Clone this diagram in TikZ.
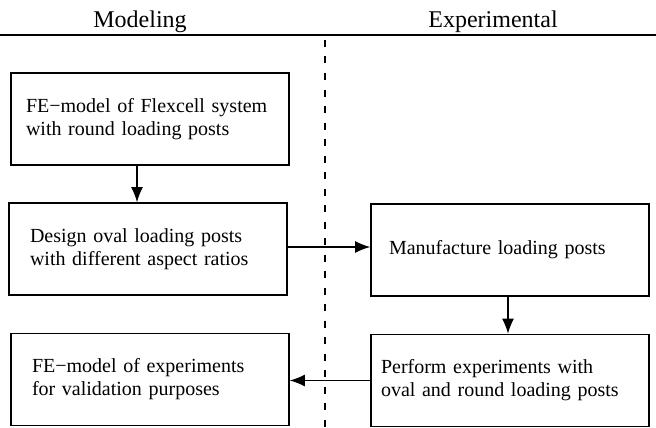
\documentclass[tikz,border=0pt]{standalone}
\usepackage{fontspec}
\setmainfont{Liberation Serif}
\usetikzlibrary{arrows.meta}

\begin{document}
\begin{tikzpicture}[x=1pt,y=-1pt]
%%%%%%%%%%%%%%%%%%%%%%%%%%%%%%%%%%%%%%%%%%%%%%%%%%%%%%%%
% STYLE
\tikzstyle{box}=[rectangle,draw,line width=1.6pt,minimum height=92pt,inner xsep=19pt,text width=240pt,align=left,font=\fontsize{20}{23}\selectfont]
\tikzstyle{title}=[anchor=base,font=\fontsize{24}{29}\selectfont]

\tikzset{link/.style={-{Latex[length=15pt,width=12pt]},line width=1.3pt}}

\useasboundingbox (0,0) rectangle (656,428);

%%%%%%%%%%%%%%%%%%%%%%%%%%%%%%%%%%%%%%%%%%%%%%%%%%%%%%%%
% HEADER
\node[title] (Tmod) at (140,28) {Modeling};
\node[title] (Texp) at (493,28) {Experimental};
\draw[line width=1.6pt] (0,35) -- (656,35);
\draw[line width=1.3pt,dash pattern=on 7pt off 9.5pt] (325,40) -- (325,428);

%%%%%%%%%%%%%%%%%%%%%%%%%%%%%%%%%%%%%%%%%%%%%%%%%%%%%%%%
% NODES
\node[box,inner xsep=15pt,text width=248pt] (M1) at (150,119) {FE−model of Flexcell system\\with round loading posts};
\node[box,inner xsep=21pt,text width=236pt] (M2) at (148,249) {Design oval loading posts\\with different aspect ratios};
\node[box,inner xsep=21pt,text width=236pt] (M3) at (150,379.5) {FE−model of experiments\\for validation purposes};

\node[box,inner xsep=18pt,text width=242pt] (E1) at (510,250) {Manufacture loading posts};
\node[box,inner xsep=10pt,text width=258pt] (E2) at (510,380.5) {Perform experiments with\\oval and round loading posts};

%%%%%%%%%%%%%%%%%%%%%%%%%%%%%%%%%%%%%%%%%%%%%%%%%%%%%%%%
% LINKS
\draw[link] ([xshift=-13pt]M1.south) -- ([xshift=-13pt]M1.south |- M2.north);
\draw[link] ([yshift=2pt]M2.east) -- ([yshift=2pt]M2.east -| E1.west);
\draw[link] ([xshift=-2pt]E1.south) -- ([xshift=-2pt]E1.south |- E2.north);
\draw[link] (E2.west) -- (E2.west -| M3.east);

\end{tikzpicture}
\end{document}
